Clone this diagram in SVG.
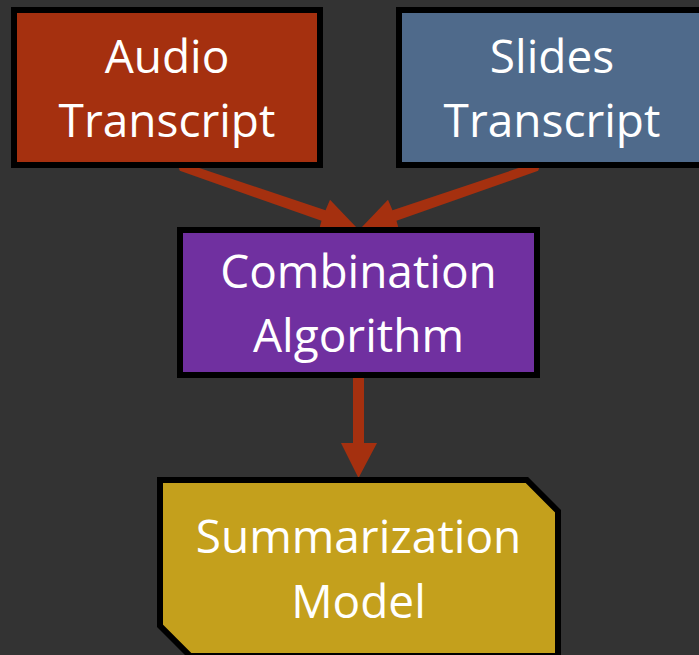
<svg xmlns="http://www.w3.org/2000/svg" width="699" height="655" viewBox="0 0 699 655">
  <defs>
    <style>
      .box { stroke: #000000; stroke-width: 6; stroke-linejoin: miter; }
      .label { font-family: "Open Sans", "Liberation Sans", sans-serif; font-size: 46px; fill: #FFFFFF; text-anchor: middle; }
      .flow { fill: #A5300F; }
    </style>
  </defs>

  <rect width="699" height="655" fill="#333333"/>

  <!-- connectors: drawn first so the node borders sit on top -->
  <g id="connectors">
    <!-- Audio Transcript -> Combination Algorithm -->
    <polygon class="flow" points="176.2,160.3 179.8,170.7 321.5,220.8 318,233.7 357,228 330,199.7 325.5,210.2"/>
    <!-- Slides Transcript -> Combination Algorithm -->
    <polygon class="flow" points="541.8,160.3 538.2,170.7 396.5,220.8 400,233.7 361,228 388,199.7 392.5,210.2"/>
    <!-- Combination Algorithm -> Summarization Model -->
    <polygon class="flow" points="353,375 364,375 364,443 377,443 358.5,478 341,443 353,443"/>
  </g>

  <g id="audio-transcript">
    <rect class="box" x="14" y="10" width="306" height="155" fill="#A5300F"/>
    <text class="label" x="167" y="73">Audio</text>
    <text class="label" x="167" y="137">Transcript</text>
  </g>

  <g id="slides-transcript">
    <rect class="box" x="399" y="10" width="306" height="155" fill="#4F6A8B"/>
    <text class="label" x="552" y="73">Slides</text>
    <text class="label" x="552" y="137">Transcript</text>
  </g>

  <g id="combination-algorithm">
    <rect class="box" x="180" y="230" width="357" height="145" fill="#7030A0"/>
    <text class="label" x="358.5" y="288">Combination</text>
    <text class="label" x="358.5" y="352">Algorithm</text>
  </g>

  <g id="summarization-model">
    <path class="box" d="M160,480 L526.8,480 L558,511.2 L558,656 L190.2,656 L160,625.8 Z" fill="#C4A01C"/>
    <text class="label" x="358.5" y="553">Summarization</text>
    <text class="label" x="358.5" y="618">Model</text>
  </g>
</svg>
